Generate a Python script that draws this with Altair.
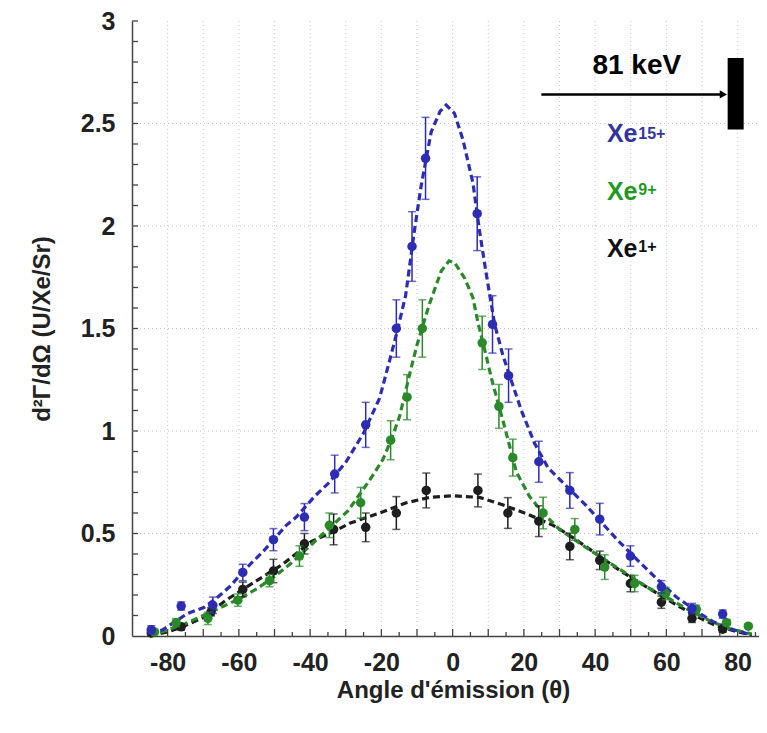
import altair as alt
import pandas as pd

# ---------------- data ----------------
series = ["Xe15+", "Xe9+", "Xe1+"]
colors = ["#2c2cb4", "#2a8a2a", "#1e1e1e"]

# Xe15+ measured points
blue_x = [-84.6, -76.2, -67.3, -58.9, -50.3, -41.6, -33.1, -24.4, -15.8, -11.4, -7.6,
          6.9, 11.2, 15.7, 24.2, 32.9, 41.3, 49.9, 58.6, 67.2, 75.8]
blue_y = [0.03, 0.146, 0.15, 0.31, 0.47, 0.58, 0.79, 1.03, 1.50, 1.90, 2.33,
          2.06, 1.52, 1.27, 0.85, 0.71, 0.57, 0.39, 0.24, 0.134, 0.107]
blue_err = [0.02, 0.02, 0.04, 0.04, 0.054, 0.066, 0.092, 0.11, 0.14, 0.17, 0.20,
            0.18, 0.14, 0.13, 0.10, 0.087, 0.077, 0.05, 0.03, 0.025, 0.02]

# Xe9+ measured points
green_x = [-83.7, -77.6, -68.7, -60.3, -51.4, -43.0, -34.6, -25.8, -17.4, -12.8, -8.5,
           8.3, 13.0, 16.9, 25.4, 34.3, 42.7, 51.1, 59.8, 68.4, 76.9, 83.0]
green_y = [0.02, 0.065, 0.086, 0.175, 0.27, 0.39, 0.54, 0.65, 0.955, 1.165, 1.50,
           1.43, 1.12, 0.87, 0.60, 0.52, 0.336, 0.256, 0.207, 0.13, 0.065, 0.048]
green_err = [0.01, 0.02, 0.03, 0.03, 0.03, 0.05, 0.06, 0.075, 0.095, 0.11, 0.14,
             0.13, 0.107, 0.09, 0.077, 0.053, 0.06, 0.04, 0.03, 0.02, 0.015, 0.01]

# Xe1+ measured points
black_x = [-84.6, -76.2, -67.8, -58.9, -50.3, -41.6, -33.4, -24.4, -15.8, -7.4,
           7.1, 15.5, 24.2, 32.9, 41.3, 49.9, 58.6, 67.2, 75.8]
black_y = [0.015, 0.045, 0.118, 0.227, 0.317, 0.45, 0.52, 0.53, 0.60, 0.71,
           0.71, 0.60, 0.56, 0.437, 0.369, 0.256, 0.165, 0.086, 0.033]
black_err = [0.01, 0.015, 0.02, 0.036, 0.057, 0.05, 0.075, 0.07, 0.08, 0.085,
             0.08, 0.075, 0.075, 0.065, 0.045, 0.04, 0.03, 0.02, 0.015]

# dashed fit curves (read along the drawn dashes)
blue_fit_x = [-85, -81.4, -74.4, -69.7, -65.9, -62.6, -58, -53.3, -46.7, -43.9, -38.8,
              -34.6, -29.9, -25, -20.5, -18.2, -15.8, -13.2, -10.7, -8.8, -6, -3.5,
              -1.8, 0.5, 2.9, 5.7, 7.6, 9.5, 11.8, 14.1, 16, 19.3, 23, 26.8, 32.3,
              37.5, 42, 46.4, 52.5, 56.3, 62.8, 69.4, 73.1, 78, 83]
blue_fit_y = [0.01, 0.03, 0.11, 0.14, 0.19, 0.24, 0.33, 0.41, 0.54, 0.58, 0.68,
              0.75, 0.85, 0.99, 1.16, 1.31, 1.47, 1.66, 1.98, 2.20, 2.46, 2.56,
              2.59, 2.55, 2.42, 2.21, 1.97, 1.76, 1.52, 1.37, 1.27, 1.10, 0.94, 0.82, 0.725,
              0.636, 0.55, 0.466, 0.36, 0.296, 0.19, 0.11, 0.07, 0.035, 0.01]

green_fit_x = [-85, -80, -75, -70, -65, -60, -55, -50, -45, -40, -35, -29.4, -23.3,
               -19.6, -17.4, -14.9, -12.1, -10, -6.5, -3.2, -1, 0.6, 3.4, 5.7, 7.1,
               9.5, 11, 14.6, 17.9, 21.6, 25.4, 30, 37.6, 42, 47.4, 54.4, 61, 67,
               72.7, 77.8, 84]
green_fit_y = [0.0, 0.03, 0.06, 0.10, 0.14, 0.18, 0.23, 0.29, 0.36, 0.44, 0.52, 0.61,
               0.76, 0.86, 0.95, 1.07, 1.275, 1.42, 1.62, 1.78, 1.83, 1.82, 1.745,
               1.65, 1.53, 1.36, 1.25, 1.02, 0.80, 0.68, 0.60, 0.52, 0.43, 0.38,
               0.32, 0.24, 0.18, 0.12, 0.07, 0.035, 0.01]

black_fit_x = [-85, -80, -75.8, -70, -63.6, -55, -47.7, -39.7, -32.7, -28.9, -20.5,
               -13, -6.5, 0, 7.6, 14, 21, 28.2, 32, 37.6, 46.9, 54.4, 62, 68, 74, 80, 84]
black_fit_y = [0.0, 0.02, 0.045, 0.09, 0.175, 0.27, 0.35, 0.46, 0.515, 0.55, 0.60,
               0.65, 0.676, 0.684, 0.676, 0.64, 0.595, 0.54, 0.50, 0.434, 0.32, 0.24,
               0.16, 0.10, 0.05, 0.02, 0.005]

# axis ticks / grid
x_labels = [-80, -60, -40, -20, 0, 20, 40, 60, 80]
x_grid = [-80, -70, -60, -50, -40, -30, -20, -10, 0, 10, 20, 30, 40, 50, 60, 70, 80]
x_minor = [-85, -75, -65, -55, -45, -35, -25, -15, -5, 5, 15, 25, 35, 45, 55, 65, 75, 85]
y_labels = [0, 0.5, 1, 1.5, 2, 2.5, 3]
y_grid = [0.5, 1, 1.5, 2, 2.5]
y_ticks = [round(0.1 * i, 1) for i in range(1, 31)]

# annotations (data coordinates)
beam_label = ["81 keV"]
beam_label_x = [51.7]
beam_label_y = [2.74]
arrow_x = [24.9]
arrow_x2 = [76.0]
arrow_y = [2.642]
target_x = [77.2]
target_x2 = [81.7]
target_y = [2.471]
target_y2 = [2.82]
legend_x = [43.3, 43.3, 43.3]
legend_y = [2.408, 2.126, 1.850]
legend_sup = ["15+", "9+", "1+"]
legend_sup_x = [52.1, 52.1, 52.1]
legend_sup_y = [2.49, 2.214, 1.937]
legend_colors = ["#35359e", "#1f9a1f", "#111111"]

# ---------------- chart ----------------
W, H = 627, 615
FONT = "Liberation Sans"
TXT = "#222222"

xscale = alt.Scale(domain=[-90, 86], nice=False, zero=False)
yscale = alt.Scale(domain=[0, 3], nice=False, zero=False)

xaxis = alt.Axis(values=x_labels, labelExpr="'' + datum.value", grid=False, ticks=False,
                 tickSize=0, domainColor="#444444", domainWidth=1.5,
                 labelFont=FONT, labelFontSize=25, labelFontWeight="bold", labelColor=TXT,
                 labelPadding=26, labelBaseline="middle", labelFlush=False, labelOverlap=False,
                 title="Angle d'émission (θ)", titleFont=FONT, titleFontSize=24,
                 titleFontWeight="bold", titleColor=TXT, titleX=321, titleY=54,
                 titleBaseline="middle", titleAlign="center")
yaxis = alt.Axis(values=y_labels, labelExpr="'' + datum.value", grid=False, ticks=False,
                 tickSize=0, domainColor="#444444", domainWidth=1.5,
                 labelFont=FONT, labelFontSize=25, labelFontWeight="bold", labelColor=TXT,
                 labelPadding=17, labelFlush=False, labelOverlap=False,
                 title="d²Γ/dΩ (U/Xe/Sr)", titleFont=FONT, titleFontSize=24,
                 titleFontWeight="bold", titleColor=TXT, titleAngle=-90, titleX=-90,
                 titleY=H / 2, titleBaseline="middle", titleAlign="center")


def X(f):
    return alt.X(f, type="quantitative", scale=xscale, axis=xaxis)


def Y(f):
    return alt.Y(f, type="quantitative", scale=yscale, axis=yaxis)


color_enc = alt.Color("s:N", scale=alt.Scale(domain=series, range=colors), legend=None)

pts_frames, fit_frames = [], []
for name, xs, ys, es in [("Xe1+", black_x, black_y, black_err),
                         ("Xe9+", green_x, green_y, green_err),
                         ("Xe15+", blue_x, blue_y, blue_err)]:
    pts_frames.append(pd.DataFrame({"x": xs, "y": ys,
                                    "lo": [a - b for a, b in zip(ys, es)],
                                    "hi": [a + b for a, b in zip(ys, es)],
                                    "s": name}))
for name, xs, ys in [("Xe1+", black_fit_x, black_fit_y),
                     ("Xe9+", green_fit_x, green_fit_y),
                     ("Xe15+", blue_fit_x, blue_fit_y)]:
    fit_frames.append(pd.DataFrame({"x": xs, "y": ys, "s": name}))

layers = []

# grid
layers.append(alt.Chart(pd.DataFrame({"g": x_grid})).mark_rule(
    color="#c4c4c4", strokeDash=[1, 3], strokeWidth=1).encode(
    x=X("g"), y=alt.value(0), y2=alt.value(H)))
layers.append(alt.Chart(pd.DataFrame({"g": y_grid})).mark_rule(
    color="#c4c4c4", strokeDash=[1, 3], strokeWidth=1).encode(
    y=Y("g"), x=alt.value(0), x2=alt.value(W)))

# inward ticks
layers.append(alt.Chart(pd.DataFrame({"t": x_grid})).mark_rule(
    color="#444444", strokeWidth=1.3).encode(
    x=X("t"), y=alt.value(H), y2=alt.value(H - 7)))
layers.append(alt.Chart(pd.DataFrame({"t": x_minor})).mark_rule(
    color="#444444", strokeWidth=1.3).encode(
    x=X("t"), y=alt.value(H), y2=alt.value(H - 4)))
layers.append(alt.Chart(pd.DataFrame({"t": y_ticks})).mark_rule(
    color="#444444", strokeWidth=1.3).encode(
    y=Y("t"), x=alt.value(0), x2=alt.value(6)))

# fits, error bars and points, one series at a time
for fdf in fit_frames:
    layers.append(alt.Chart(fdf).mark_line(strokeDash=[7, 4], strokeWidth=3.2).encode(
        x=X("x"), y=Y("y"), color=color_enc, order="x:Q"))
for pdf in pts_frames:
    layers.append(alt.Chart(pdf).mark_rule(strokeWidth=1.5).encode(
        x=X("x"), y=Y("lo"), y2="hi:Q", color=color_enc))
    layers.append(alt.Chart(pdf).mark_tick(orient="horizontal", size=8, thickness=1.5).encode(
        x=X("x"), y=Y("lo"), color=color_enc))
    layers.append(alt.Chart(pdf).mark_tick(orient="horizontal", size=8, thickness=1.5).encode(
        x=X("x"), y=Y("hi"), color=color_enc))
    layers.append(alt.Chart(pdf).mark_circle(size=90, opacity=1).encode(
        x=X("x"), y=Y("y"), color=color_enc))

# annotations
layers.append(alt.Chart(pd.DataFrame({"x": beam_label_x, "y": beam_label_y, "t": beam_label}))
              .mark_text(font=FONT, fontSize=28, fontWeight="bold", color="#000000",
                         align="center", baseline="alphabetic")
              .encode(x=X("x"), y=Y("y"), text="t:N"))
layers.append(alt.Chart(pd.DataFrame({"x": arrow_x, "x2": arrow_x2, "y": arrow_y}))
              .mark_rule(color="#000000", strokeWidth=2.5)
              .encode(x=X("x"), x2="x2:Q", y=Y("y")))
layers.append(alt.Chart(pd.DataFrame({"x": arrow_x2, "y": arrow_y}))
              .mark_point(shape="triangle-right", filled=True, size=70, color="#000000", opacity=1)
              .encode(x=X("x"), y=Y("y")))
layers.append(alt.Chart(pd.DataFrame({"x": target_x, "x2": target_x2, "y": target_y, "y2": target_y2}))
              .mark_rect(color="#000000")
              .encode(x=X("x"), x2="x2:Q", y=Y("y"), y2="y2:Q"))
leg_df = pd.DataFrame({"x": legend_x, "y": legend_y, "sx": legend_sup_x, "sy": legend_sup_y,
                       "sup": legend_sup, "c": legend_colors, "t": ["Xe"] * 3})
layers.append(alt.Chart(leg_df).mark_text(font=FONT, fontSize=25, fontWeight="bold",
                                          align="left", baseline="alphabetic")
              .encode(x=X("x"), y=Y("y"), text="t:N", color=alt.Color("c:N", scale=None)))
layers.append(alt.Chart(leg_df).mark_text(font=FONT, fontSize=16, fontWeight="bold",
                                          align="left", baseline="top")
              .encode(x=X("sx"), y=Y("sy"), text="sup:N", color=alt.Color("c:N", scale=None)))

chart = alt.layer(*layers).properties(
    width=W, height=H,
    autosize=alt.AutoSizeParams(type="none"),
    padding={"left": 124, "top": 13, "right": 0, "bottom": 80},
    background="white",
).configure_view(stroke=None)

chart.save("out.html", embed_options={"renderer": "svg", "actions": False})
